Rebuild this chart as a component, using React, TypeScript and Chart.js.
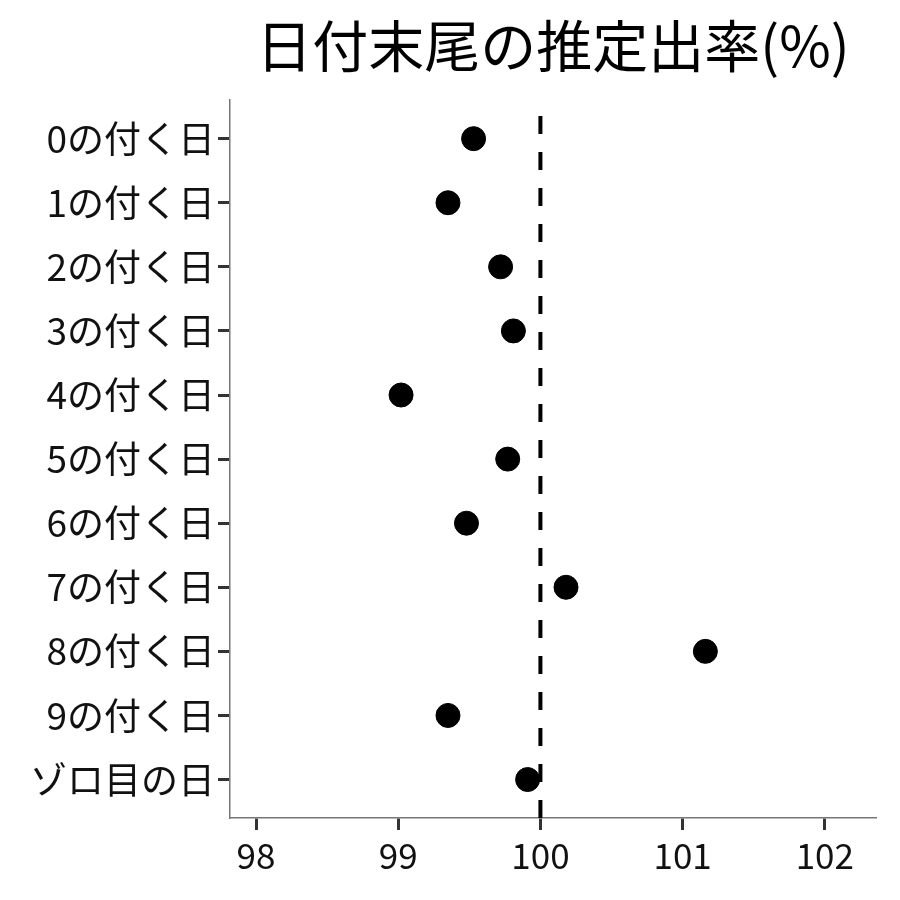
import React, { useEffect, useRef } from "react";
import { Chart, registerables } from "chart.js";

Chart.register(...registerables);

const TITLE = "日付末尾の推定出率(%)";
const categories = [
  "0の付く日",
  "1の付く日",
  "2の付く日",
  "3の付く日",
  "4の付く日",
  "5の付く日",
  "6の付く日",
  "7の付く日",
  "8の付く日",
  "9の付く日",
  "ゾロ目の日",
];
const rates = [99.53, 99.35, 99.72, 99.81, 99.02, 99.77, 99.48, 100.18, 101.16, 99.35, 99.91];
const xTicks = [98, 99, 100, 101, 102];
const refValue = 100;

const FONT = "'Noto Sans CJK JP', 'Noto Sans', sans-serif";

export default function App() {
  const ref = useRef<HTMLCanvasElement | null>(null);
  useEffect(() => {
    if (!ref.current) return;
    const n = categories.length;
    const chart = new Chart(ref.current, {
      type: "scatter",
      data: {
        datasets: [
          {
            type: "line",
            data: [
              { x: refValue, y: n - 1 + 0.6 },
              { x: refValue, y: -0.6 },
            ],
            borderColor: "#000",
            borderWidth: 4,
            borderDash: [18, 18],
            borderCapStyle: "butt",
            pointRadius: 0,
            fill: false,
          } as any,
          {
            data: rates.map((v, i) => ({ x: v, y: i })),
            backgroundColor: "#000",
            borderColor: "#000",
            pointRadius: 12,
            pointHoverRadius: 12,
          },
        ],
      },
      options: {
        responsive: false,
        animation: false,
        layout: { padding: { left: 0, right: 24, top: 0, bottom: 0 } },
        plugins: {
          legend: { display: false },
          tooltip: { enabled: false },
          title: {
            display: true,
            text: TITLE,
            fullSize: false,
            color: "#000",
            font: { family: FONT, size: 56, weight: "normal", lineHeight: 1.2 },
            padding: { top: 12, bottom: 21 },
          },
        },
        scales: {
          x: {
            type: "linear",
            min: 97.817,
            max: 102.36,
            afterBuildTicks: (s: any) => {
              s.ticks = xTicks.map((v) => ({ value: v }));
            },
            afterFit: (s: any) => {
              s.height = 82;
            },
            grid: {
              drawOnChartArea: false,
              tickLength: 12,
              tickColor: "#333",
              tickWidth: 3,
            },
            border: { color: "#777", width: 1.5 },
            ticks: {
              color: "#111",
              font: { family: FONT, size: 35 },
              padding: 5,
              maxRotation: 0,
            },
          },
          y: {
            type: "linear",
            min: -0.6,
            max: n - 1 + 0.6,
            reverse: true,
            afterBuildTicks: (s: any) => {
              s.ticks = categories.map((_, i) => ({ value: i }));
            },
            afterFit: (s: any) => {
              s.width = 230;
            },
            grid: {
              drawOnChartArea: false,
              tickLength: 12,
              tickColor: "#333",
              tickWidth: 3,
            },
            border: { color: "#777", width: 1.5 },
            ticks: {
              color: "#111",
              font: { family: FONT, size: 37 },
              padding: 3,
              callback: (v: any) => categories[Number(v)] ?? "",
            },
          },
        },
      },
    });
    return () => chart.destroy();
  }, []);
  return (
    <div style={{ position: "fixed", left: 0, top: 0, width: 900, height: 900, background: "#fff" }}>
      <canvas ref={ref} width={900} height={900} />
    </div>
  );
}
